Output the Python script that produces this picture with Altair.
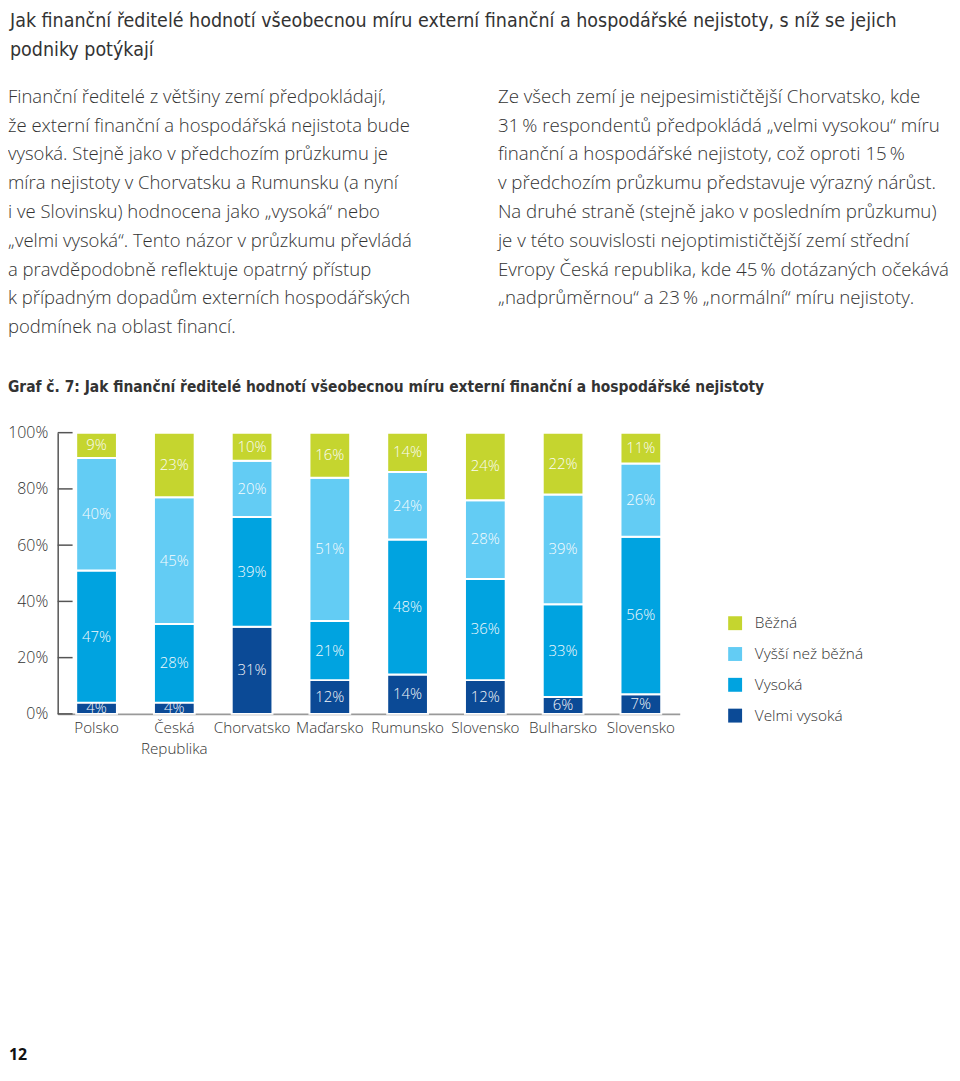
import altair as alt
import pandas as pd

# ---------------- data ----------------
countries = ["Polsko", "Česká\nRepublika", "Chorvatsko", "Maďarsko",
             "Rumunsko", "Slovensko", "Bulharsko", "Slovensko "]
levels = ["Běžná", "Vyšší než běžná", "Vysoká", "Velmi vysoká"]
velmi_vysoka = [4, 4, 31, 12, 14, 12, 6, 7]
vysoka = [47, 28, 39, 21, 48, 36, 33, 56]
vyssi_nez_bezna = [40, 45, 20, 51, 24, 28, 39, 26]
bezna = [9, 23, 10, 16, 14, 24, 22, 11]
y_ticks = [0, 20, 40, 60, 80, 100]

title_lines = [
    "Jak finanční ředitelé hodnotí všeobecnou míru externí finanční a hospodářské nejistoty, s níž se jejich",
    "podniky potýkají",
]
left_par = [
    "Finanční ředitelé z většiny zemí předpokládají,",
    "že externí finanční a hospodářská nejistota bude",
    "vysoká. Stejně jako v předchozím průzkumu je",
    "míra nejistoty v Chorvatsku a Rumunsku (a nyní",
    "i ve Slovinsku) hodnocena jako „vysoká“ nebo",
    "„velmi vysoká“. Tento názor v průzkumu převládá",
    "a pravděpodobně reflektuje opatrný přístup",
    "k případným dopadům externích hospodářských",
    "podmínek na oblast financí.",
]
right_par = [
    "Ze všech zemí je nejpesimističtější Chorvatsko, kde",
    "31\u2009% respondentů předpokládá „velmi vysokou“ míru",
    "finanční a hospodářské nejistoty, což oproti 15\u2009%",
    "v předchozím průzkumu představuje výrazný nárůst.",
    "Na druhé straně (stejně jako v posledním průzkumu)",
    "je v této souvislosti nejoptimističtější zemí střední",
    "Evropy Česká republika, kde 45\u2009% dotázaných očekává",
    "„nadprůměrnou“ a 23\u2009% „normální“ míru nejistoty.",
]
chart_title = "Graf č. 7: Jak finanční ředitelé hodnotí všeobecnou míru externí finanční a hospodářské nejistoty"
page_number = "12"

colors = ["#C5D52F", "#63CCF4", "#00A3E0", "#0B4A96"]

series = {"Velmi vysoká": velmi_vysoka, "Vysoká": vysoka,
          "Vyšší než běžná": vyssi_nez_bezna, "Běžná": bezna}
stack_order = ["Velmi vysoká", "Vysoká", "Vyšší než běžná", "Běžná"]
rows = []
for i, c in enumerate(countries):
    for r, lev in enumerate(stack_order):
        rows.append({"country": c, "level": lev, "rank": r, "value": series[lev][i]})
df = pd.DataFrame(rows)

BODY_FONT = "Open Sans"
COND_FONT = "Liberation Sans Narrow, DejaVu Sans Condensed, sans-serif"
TXT = "#333333"

# plot origin on page: (58, 432)
OX, OY = 58, 432

y_axis = alt.Axis(values=y_ticks, labelExpr="datum.value + '%'", ticks=False,
                  domainColor="#555555", domainWidth=1.5, labelPadding=10,
                  labelFontSize=16, labelFontWeight=300, labelColor=TXT,
                  labelFont=BODY_FONT, grid=False, title=None)

base = alt.Chart(df).transform_stack(
    stack="value", groupby=["country"], sort=[alt.SortField("rank", order="ascending")],
    as_=["y0", "y1"]
).transform_calculate(mid="(datum.y0 + datum.y1) / 2", label="datum.value + '%'")

x_enc = alt.X("country:N", sort=countries,
              scale=alt.Scale(paddingInner=0.476, paddingOuter=0.238),
              axis=alt.Axis(title=None, labelAngle=0, ticks=False,
                            labelExpr="split(trim(datum.label), '\\n')",
                            labelFontSize=15.3, labelFontWeight=300, labelColor=TXT,
                            labelFont=BODY_FONT, labelPadding=7, labelLineHeight=21,
                            domainColor="#9a9a9a", domainWidth=2))

bars = base.mark_bar(stroke="white", strokeWidth=2).encode(
    x=x_enc,
    y=alt.Y("y0:Q", scale=alt.Scale(domain=[0, 100]), axis=y_axis),
    y2="y1:Q",
    color=alt.Color("level:N", scale=alt.Scale(domain=levels, range=colors),
                    legend=alt.Legend(title=None, orient="none", legendX=674, legendY=184,
                                      symbolType="square", symbolSize=196,
                                      symbolStrokeWidth=0, labelFontSize=15.5,
                                      labelFontWeight=300,
                                      labelFont=BODY_FONT, labelColor=TXT,
                                      labelOffset=12, rowPadding=14, padding=0)),
)

labels = base.mark_text(color="white", fontSize=15, fontWeight=300, font=BODY_FONT,
                        opacity=0.95).encode(
    x=x_enc,
    y=alt.Y("mid:Q", scale=alt.Scale(domain=[0, 100]), axis=y_axis),
    text="label:N",
)

ticks = alt.Chart(pd.DataFrame({"y0": y_ticks})).mark_rule(color="#555555", strokeWidth=1.5).encode(
    y=alt.Y("y0:Q", scale=alt.Scale(domain=[0, 100]), axis=y_axis),
    x=alt.value(0), x2=alt.value(15),
)


def text_block(lines, px, py, size, lh, font, weight="normal", color=TXT):
    return alt.Chart(alt.Data(values=[{}])).mark_text(
        align="left", baseline="top", fontSize=size, lineHeight=lh, font=font,
        fontWeight=weight, color=color
    ).encode(x=alt.value(px - OX), y=alt.value(py - OY), text=alt.value(lines))


t_title = text_block(title_lines, 10, 9, 19.6, 29, COND_FONT)
t_left = text_block(left_par, 8, 85, 18.6, 29, BODY_FONT, weight=300)
t_right = text_block(right_par, 501, 85, 18.8, 29, BODY_FONT, weight=300)
t_graf = text_block([chart_title], 8, 379, 15.5, 20, COND_FONT, weight="bold")
t_page = text_block([page_number], 9, 1050, 16, 18, BODY_FONT, weight="bold", color="#111111")

chart = alt.layer(bars, labels, ticks, t_title, t_left, t_right, t_graf, t_page).properties(
    width=626, height=283,
    autosize=alt.AutoSizeParams(type="none"),
    padding={"left": 50, "top": 424, "right": 274, "bottom": 351},
).configure_view(stroke=None)

chart.save("out.html", embed_options={"renderer": "svg", "actions": False})
